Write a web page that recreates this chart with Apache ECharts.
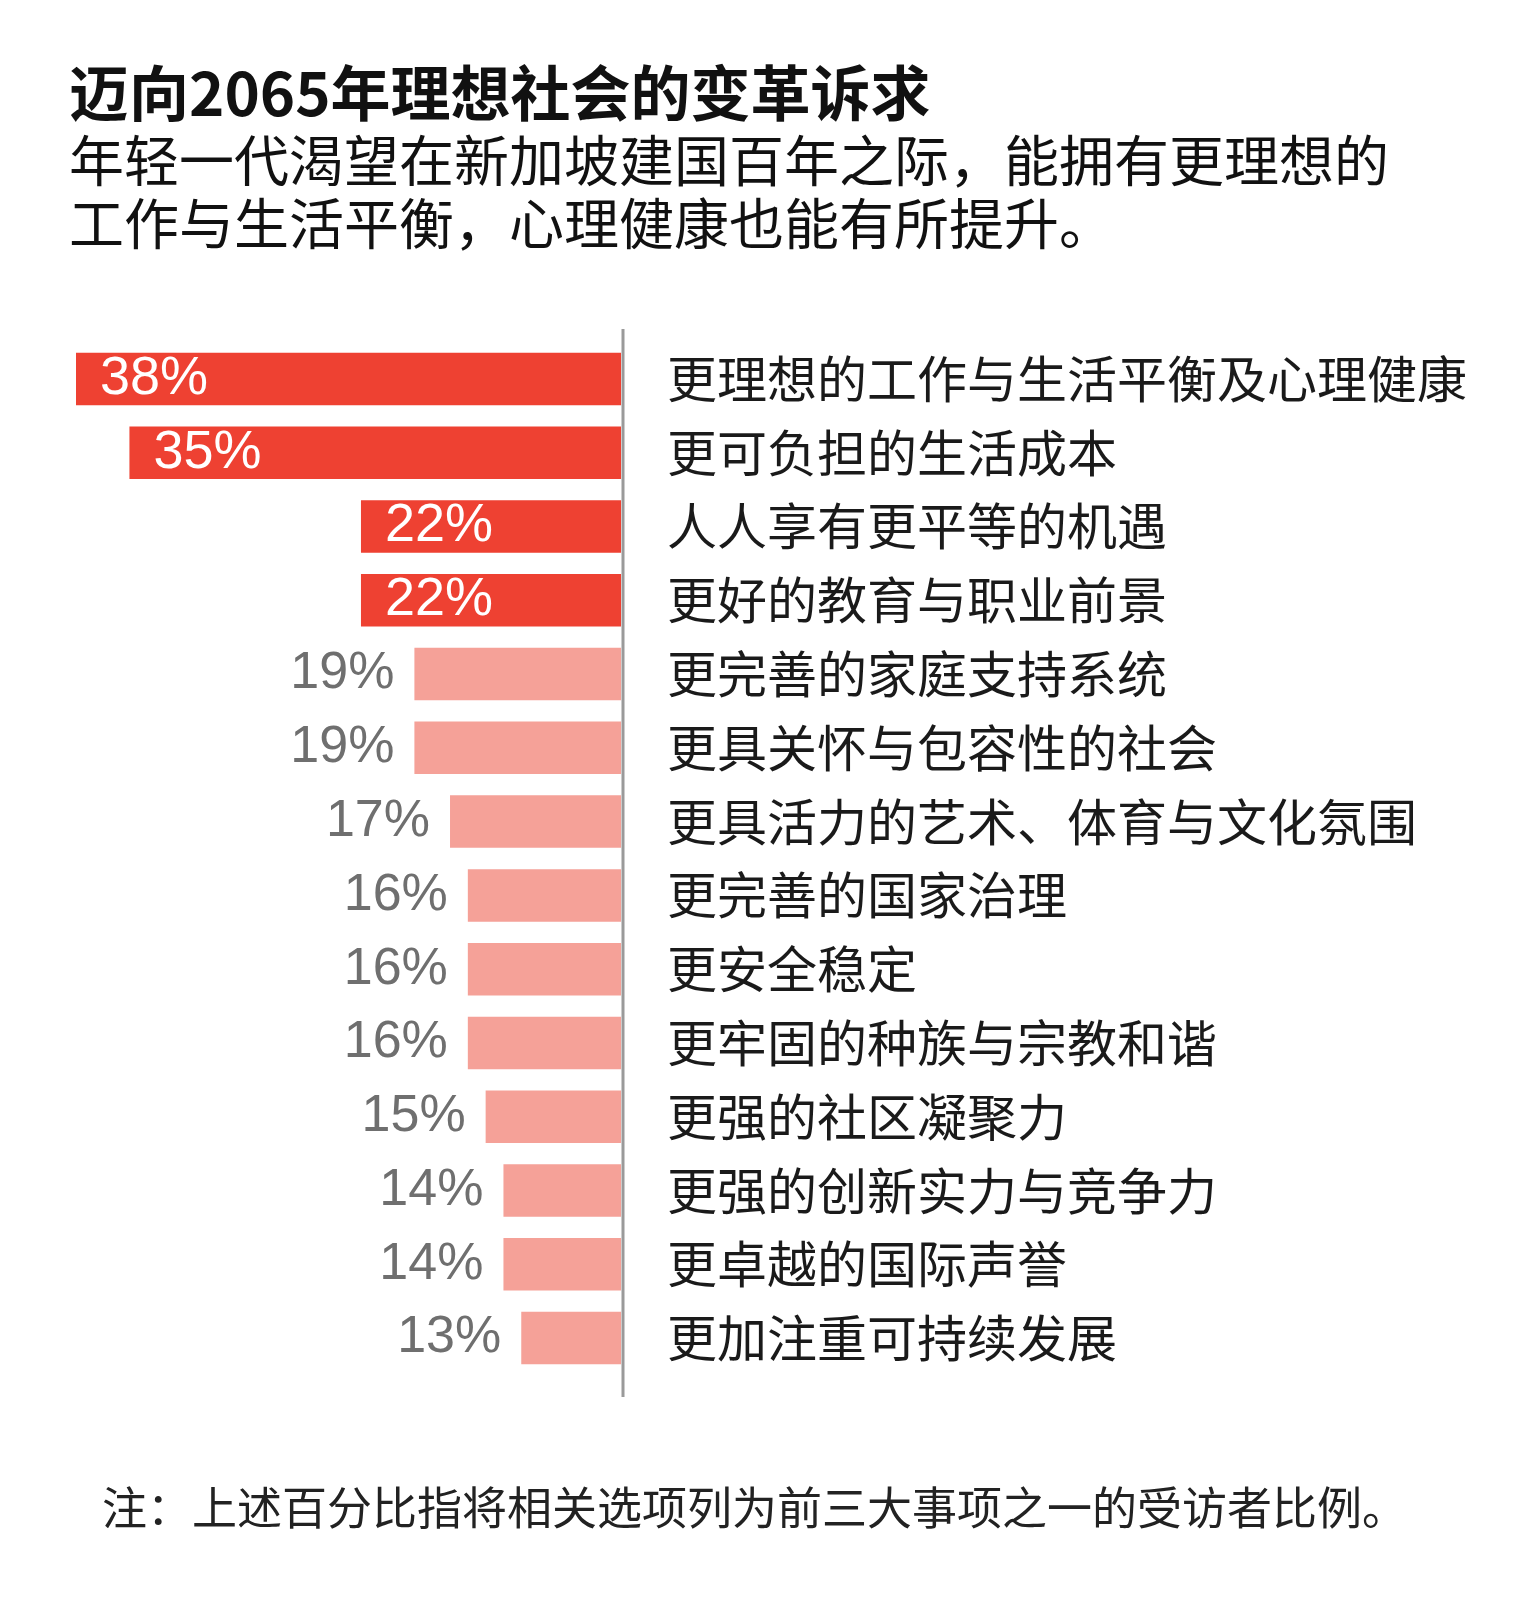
<!DOCTYPE html>
<html>
<head>
<meta charset="utf-8">
<script src="https://cdn.jsdelivr.net/npm/echarts@6/dist/echarts.min.js"></script>
<style>
html,body{margin:0;padding:0;background:#fff;}
#chart{width:1536px;height:1614px;}
</style>
</head>
<body>
<div id="chart"></div>
<script>
const categories = [
  '更理想的工作与生活平衡及心理健康',
  '更可负担的生活成本',
  '人人享有更平等的机遇',
  '更好的教育与职业前景',
  '更完善的家庭支持系统',
  '更具关怀与包容性的社会',
  '更具活力的艺术、体育与文化氛围',
  '更完善的国家治理',
  '更安全稳定',
  '更牢固的种族与宗教和谐',
  '更强的社区凝聚力',
  '更强的创新实力与竞争力',
  '更卓越的国际声誉',
  '更加注重可持续发展'
];
const values = [38, 35, 22, 22, 19, 19, 17, 16, 16, 16, 15, 14, 14, 13];
const highlightCount = 4;

const titleText = '迈向2065年理想社会的变革诉求';
const subtitleText = '年轻一代渴望在新加坡建国百年之际，能拥有更理想的\n工作与生活平衡，心理健康也能有所提升。';
const noteText = '注：上述百分比指将相关选项列为前三大事项之一的受访者比例。';

const RED = '#EE4132';
const PINK = '#F5A198';
const CJK = '"Noto Sans CJK SC", "Noto Sans", sans-serif';
const NUM = '"Liberation Sans", Arial, Helvetica, sans-serif';

const seriesData = values.map((v, i) => {
  const hi = i < highlightCount;
  return {
    value: v,
    itemStyle: { color: hi ? RED : PINK },
    label: hi ? {
      show: true, position: 'insideLeft', distance: 24,
      color: '#ffffff', fontSize: 54, fontFamily: NUM
    } : {
      show: true, position: 'left', distance: 20,
      color: '#6f6f6f', fontSize: 52, fontFamily: NUM
    }
  };
});

const chart = echarts.init(document.getElementById('chart'));
chart.setOption({
  backgroundColor: '#ffffff',
  animation: false,
  title: [
    { text: titleText, left: 64, top: 57,
      textStyle: { fontSize: 60, fontWeight: 'bold', color: '#111', fontFamily: CJK, lineHeight: 62 } },
    { text: subtitleText, left: 64, top: 124,
      textStyle: { fontSize: 55, fontWeight: 'normal', color: '#111', fontFamily: CJK, lineHeight: 63 } },
    { text: noteText, left: 97, top: 1479,
      textStyle: { fontSize: 45, fontWeight: 'normal', color: '#222', fontFamily: CJK, lineHeight: 47 } }
  ],
  grid: { left: 76, right: 915, top: 342, height: 1033, containLabel: false },
  xAxis: {
    type: 'value', min: 7.4, max: 38, inverse: true, show: false
  },
  yAxis: {
    type: 'category', data: categories, inverse: true, position: 'right',
    axisLine: { show: false },
    axisTick: { show: false },
    splitLine: { show: false },
    axisLabel: { margin: 46, fontSize: 50, color: '#1a1a1a', fontFamily: CJK, align: 'left' }
  },
  graphic: [
    { type: 'line', shape: { x1: 623, y1: 329, x2: 623, y2: 1397 },
      style: { stroke: '#9a9a9a', lineWidth: 3 } }
  ],
  series: [{
    type: 'bar', barWidth: 52.5, data: seriesData,
    label: { formatter: p => p.value + '%' }
  }]
});
</script>
</body>
</html>
